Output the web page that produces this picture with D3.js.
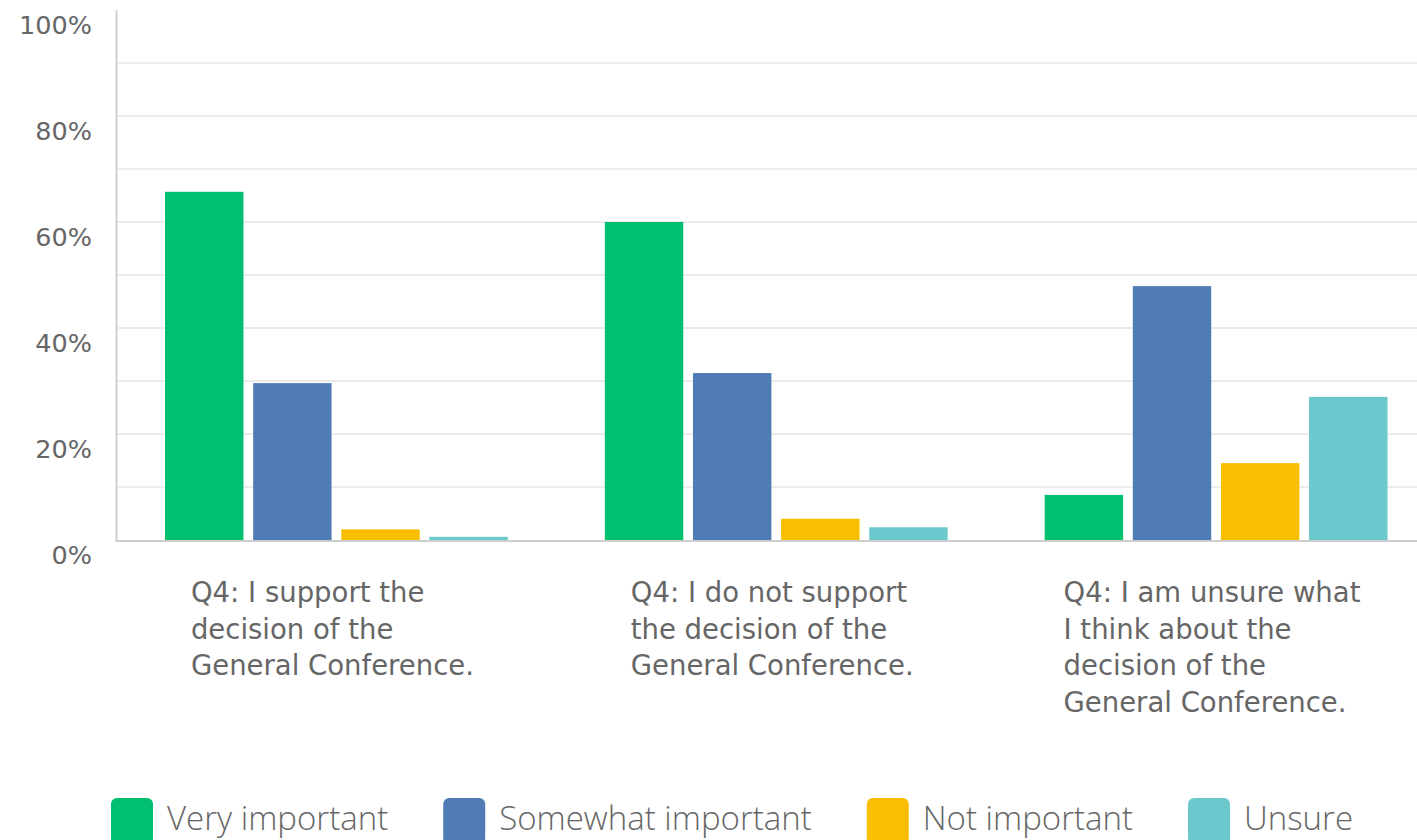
<!DOCTYPE html>
<html>
<head>
<meta charset="utf-8">
<script src="https://cdn.jsdelivr.net/npm/d3@7"></script>
<style>
  html, body { margin: 0; padding: 0; background: #fff; }
  svg { display: block; }
</style>
</head>
<body>
<svg id="chart" width="1417" height="840"></svg>
<script>
// ---- data ----
const categories = ["g1", "g2", "g3"];
const categoryLabels = [
  ["Q4: I support the", "decision of the", "General Conference."],
  ["Q4: I do not support", "the decision of the", "General Conference."],
  ["Q4: I am unsure what", "I think about the", "decision of the", "General Conference."]
];
const seriesNames = ["Very important", "Somewhat important", "Not important", "Unsure"];
const veryImportant = [65.7, 60.0, 8.5];
const somewhatImportant = [29.6, 31.5, 47.9];
const notImportant = [2.0, 4.0, 14.5];
const unsure = [0.6, 2.4, 27.0];
const seriesValues = [veryImportant, somewhatImportant, notImportant, unsure];
const seriesColors = ["#00BF6F", "#507CB6", "#F9BE00", "#6BC8CD"];
const yTicks = [0, 20, 40, 60, 80, 100];
const yGrid = [10, 20, 30, 40, 50, 60, 70, 80, 90];

// ---- layout ----
const svg = d3.select("#chart");
const W = 1417;
const plotLeft = 116.5, plotRight = 1436, plotTop = 10, plotBottom = 540;

const y = d3.scaleLinear().domain([0, 100]).range([plotBottom, plotTop]);
const x0 = d3.scaleBand().domain(categories).range([plotLeft, plotRight]).padding(0);
const x1 = d3.scaleBand().domain(seriesNames)
  .range([48.5, x0.bandwidth() - 48.5]).paddingInner(0.11).paddingOuter(0);

// gridlines
svg.append("g").selectAll("line").data(yGrid).join("line")
  .attr("x1", plotLeft).attr("x2", W)
  .attr("y1", d => y(d)).attr("y2", d => y(d))
  .attr("stroke", "#ececec").attr("stroke-width", 2);

// y tick labels (placed below their value lines, as in the reference)
svg.append("g").selectAll("text").data(yTicks).join("text")
  .attr("x", 92).attr("y", d => y(d) + 24)
  .attr("text-anchor", "end")
  .attr("font-family", "'DejaVu Sans', sans-serif")
  .attr("font-size", 25.5)
  .attr("fill", "#666")
  .text(d => d + "%");

// bars
const groups = svg.append("g").selectAll("g").data(categories).join("g")
  .attr("transform", d => `translate(${x0(d)},0)`);
groups.selectAll("rect")
  .data((c, ci) => seriesNames.map((s, si) => ({ s, v: seriesValues[si][ci], color: seriesColors[si] })))
  .join("rect")
  .attr("x", d => x1(d.s))
  .attr("width", x1.bandwidth())
  .attr("y", d => y(d.v))
  .attr("height", d => y(0) - y(d.v))
  .attr("fill", d => d.color);

// axis lines
svg.append("line").attr("x1", plotLeft).attr("x2", plotLeft)
  .attr("y1", plotTop).attr("y2", plotBottom + 1)
  .attr("stroke", "#cfcfcf").attr("stroke-width", 2);
svg.append("line").attr("x1", plotLeft - 1).attr("x2", W)
  .attr("y1", plotBottom + 1).attr("y2", plotBottom + 1)
  .attr("stroke", "#cfcfcf").attr("stroke-width", 2);

// category labels (left aligned block, centered under the group)
const labG = svg.append("g");
categories.forEach((c, ci) => {
  const t = labG.append("text")
    .attr("font-family", "'DejaVu Sans', sans-serif")
    .attr("font-size", 27.5)
    .attr("fill", "#666");
  categoryLabels[ci].forEach((line, li) => {
    t.append("tspan").attr("x", 0).attr("y", 602 + li * 36.5).text(line);
  });
  const bw = t.node().getBBox().width;
  const left = x0(c) + x0.bandwidth() / 2 - bw / 2 - 4;
  t.attr("transform", `translate(${left},0)`);
});

// legend
const leg = svg.append("g");
let lx = 111;
seriesNames.forEach((s, i) => {
  leg.append("rect").attr("x", lx).attr("y", 798).attr("width", 42).attr("height", 46)
    .attr("rx", 6).attr("fill", seriesColors[i]);
  const t = leg.append("text").attr("x", lx + 56).attr("y", 830)
    .attr("font-family", "'Open Sans', sans-serif")
    .attr("font-weight", 300)
    .attr("font-size", 33)
    .attr("fill", "#666")
    .text(s);
  lx = lx + 56 + t.node().getComputedTextLength() + 55;
});
</script>
</body>
</html>
